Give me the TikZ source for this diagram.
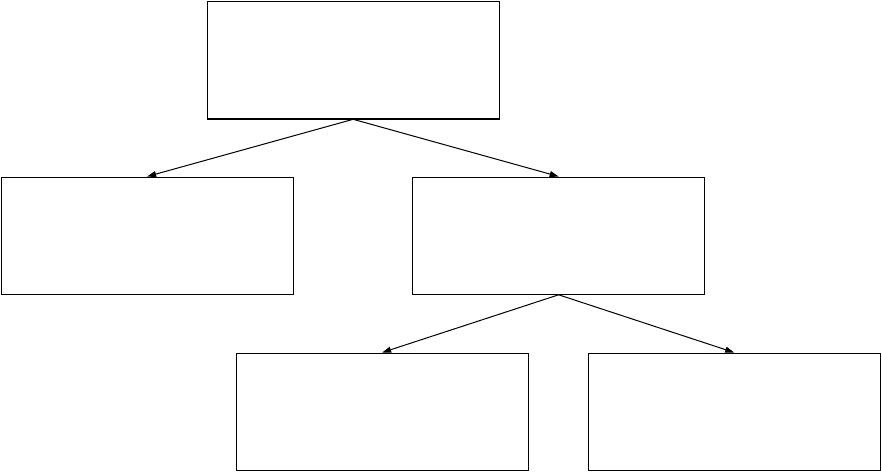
\documentclass[tikz,border=0pt]{standalone}
\usetikzlibrary{arrows.meta}
\begin{document}
\begin{tikzpicture}[x=1pt,y=-1pt,
  box/.style={draw=black,line width=1.3pt,rectangle,inner sep=0pt,minimum width=292pt,minimum height=117pt,anchor=north west},
  conn/.style={line width=1pt,-{Triangle[length=9pt,width=6pt]}}]
\useasboundingbox (0,0) rectangle (882,471);
\node[box] (top) at (206.5,1) {};
\node[box] (ml) at (1,176.5) {};
\node[box] (mr) at (412,176.5) {};
\node[box] (bl) at (235.5,352.5) {};
\node[box] (br) at (587.5,352.5) {};
\draw[line width=2pt] (top.south west) -- (top.south east);
\draw[conn] (top.south) -- ([xshift=-206pt]top.south |- ml.north);
\draw[conn] (top.south) -- ([xshift=0pt]mr.north);
\draw[conn] (mr.south) -- ([xshift=0pt]bl.north);
\draw[conn] (mr.south) -- ([xshift=0pt]br.north);
\end{tikzpicture}
\end{document}
